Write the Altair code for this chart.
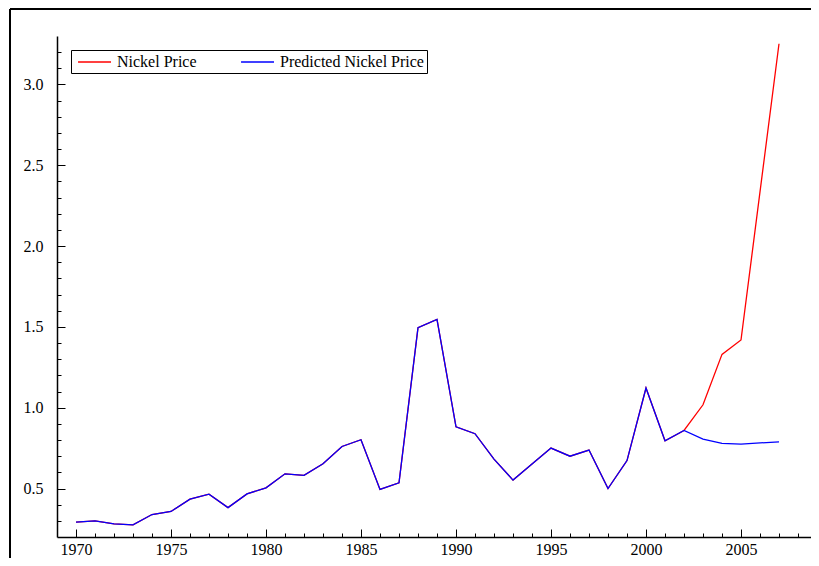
import altair as alt
import pandas as pd

years = list(range(1970, 2006)) + [2007]
nickel = [0.292, 0.300, 0.281, 0.275, 0.339, 0.358, 0.434, 0.465, 0.382, 0.467,
          0.504, 0.591, 0.581, 0.653, 0.760, 0.802, 0.494, 0.535, 1.495, 1.547,
          0.882, 0.839, 0.682, 0.552, 0.651, 0.750, 0.700, 0.738, 0.500, 0.673,
          1.122, 0.795, 0.859, 1.018, 1.330, 1.419, 3.252]
predicted = nickel[:33] + [0.806, 0.779, 0.775, 0.789]
series_names = ["Nickel Price", "Predicted Nickel Price"]
series_colors = ["#ff0000", "#0000ff"]

x_major = list(range(1970, 2006, 5))
x_minor = list(range(1970, 2009))
y_major = [0.5, 1.0, 1.5, 2.0, 2.5, 3.0]
y_minor = [round(0.3 + 0.1 * i, 1) for i in range(30)]

df = pd.DataFrame({
    "year": years * 2,
    "value": nickel + predicted,
    "series": [series_names[0]] * len(years) + [series_names[1]] * len(years),
})

W, H = 754, 501
TOP = 28
FONT = "Liberation Serif"
FS = 16
xs = alt.Scale(domain=[1969, 1969 + W / 19], nice=False, zero=False)
ys = alt.Scale(domain=[0.2, 3.3], nice=False, zero=False)

base = alt.Chart(df)

lines = base.mark_line(strokeWidth=1.3).encode(
    x=alt.X("year:Q", scale=xs, axis=alt.Axis(
        orient="bottom", values=x_major, format="d", ticks=False, tickSize=0,
        domainColor="black", domainWidth=1.5, labelPadding=4, grid=False, title=None)),
    y=alt.Y("value:Q", scale=ys, axis=alt.Axis(
        orient="left", values=y_major, format=".1f", ticks=False, tickSize=0,
        domainColor="black", domainWidth=1.5, labelPadding=14, grid=False, title=None)),
    color=alt.Color("series:N", scale=alt.Scale(domain=series_names, range=series_colors),
                    legend=alt.Legend(
                        orient="none", legendX=14, legendY=14, direction="horizontal",
                        title=None, strokeColor="black", fillColor="white", padding=3,
                        symbolType="M-0.6,0H3.4", symbolSize=272, symbolStrokeWidth=1.5,
                        labelFont=FONT, labelFontSize=FS, labelColor="black",
                        labelExpr="datum.label == 'Predicted Nickel Price' ? datum.label + '\u00a0\u00a0\u00a0' : datum.label",
                        labelOffset=25, columnPadding=40, cornerRadius=0)),
)

def xticks(vals, size):
    return base.mark_point(opacity=0).encode(
        x=alt.X("year:Q", scale=xs, axis=alt.Axis(
            orient="top", offset=-H, values=vals, tickSize=size, labels=False,
            domain=False, grid=False, title=None, tickColor="black", tickWidth=1)),
        y=alt.Y("value:Q", scale=ys, axis=None),
    )

def yticks(vals, size):
    return base.mark_point(opacity=0).encode(
        x=alt.X("year:Q", scale=xs, axis=None),
        y=alt.Y("value:Q", scale=ys, axis=alt.Axis(
            orient="right", offset=-W, values=vals, tickSize=size, labels=False,
            domain=False, grid=False, title=None, tickColor="black", tickWidth=1)),
    )

one = alt.Chart(pd.DataFrame({"a": [0]}))
frame_top = one.mark_rule(color="black", strokeWidth=2).encode(
    x=alt.value(-47), x2=alt.value(W), y=alt.value(1 - TOP))
frame_left = one.mark_rule(color="black", strokeWidth=2).encode(
    x=alt.value(-47), y=alt.value(1 - TOP), y2=alt.value(H + 21))

chart = alt.layer(
    lines, xticks(x_minor, 4), xticks(x_major, 8), yticks(y_minor, 4), yticks(y_major, 8),
    frame_top, frame_left,
).resolve_axis(x="independent", y="independent").properties(
    width=W, height=H,
    autosize=alt.AutoSizeParams(type="none"),
    padding={"left": 49, "top": TOP, "right": 0, "bottom": 21},
    background="white",
).configure_view(stroke=None).configure_axis(
    labelFont=FONT, labelFontSize=FS, labelColor="black",
)

chart.save("out.html", embed_options={"renderer": "svg", "actions": False})
